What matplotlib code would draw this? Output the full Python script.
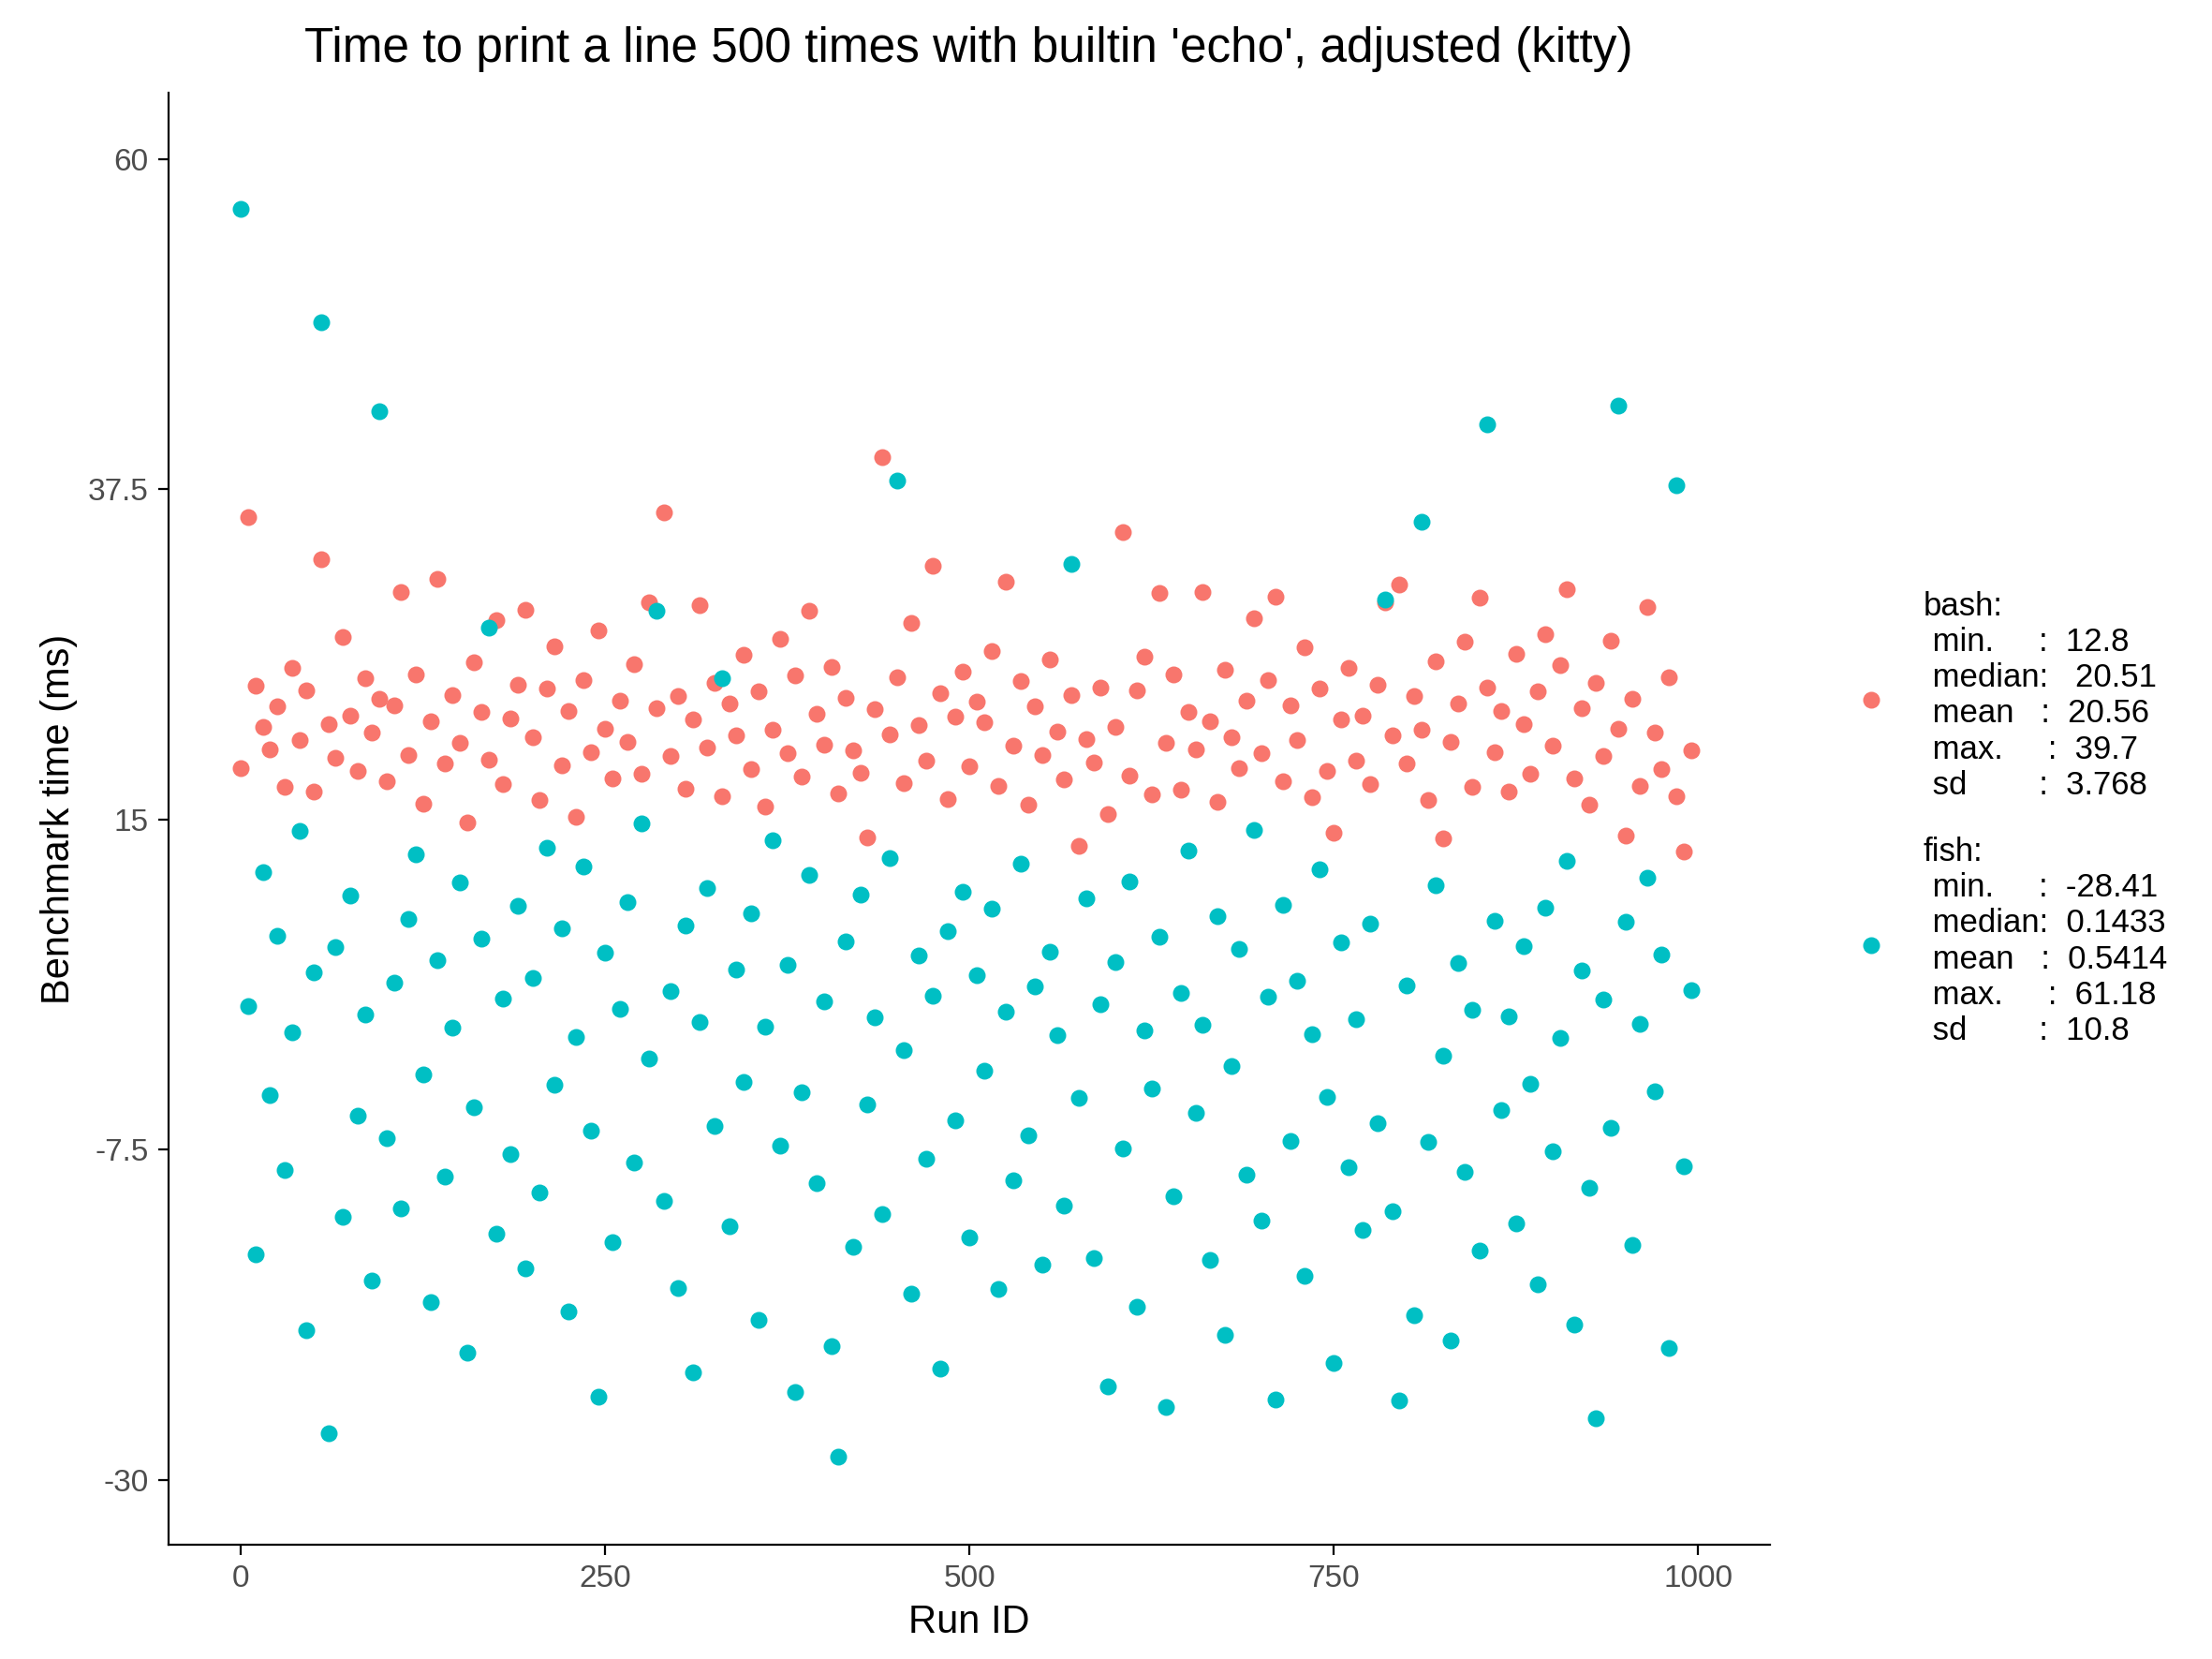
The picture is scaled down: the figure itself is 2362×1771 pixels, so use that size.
import numpy as np
import matplotlib.pyplot as plt

plt.rcParams["font.family"] = "Liberation Sans"

run_ids = np.arange(0, 1000, 5)

bash_ms = [
    18.5, 35.6, 24.1, 21.3, 19.8, 22.7, 17.2, 25.3, 20.4, 23.8, 16.9, 32.7, 21.5, 19.2, 27.4, 22.1, 18.3, 24.6, 20.9, 23.2,
    17.6, 22.8, 30.5, 19.4, 24.9, 16.1, 21.7, 31.4, 18.8, 23.5, 20.2, 14.8, 25.7, 22.3, 19.1, 28.6, 17.4, 21.9, 24.2, 29.3,
    20.6, 16.3, 23.9, 26.8, 18.7, 22.4, 15.2, 24.5, 19.6, 27.9, 21.2, 17.8, 23.1, 20.3, 25.6, 18.1, 29.8, 22.6, 35.9, 19.3,
    23.4, 17.1, 21.8, 29.6, 19.9, 24.3, 16.6, 22.9, 20.7, 26.2, 18.4, 23.7, 15.9, 21.1, 27.3, 19.5, 24.8, 17.9, 29.2, 22.2,
    20.1, 25.4, 16.8, 23.3, 19.7, 18.2, 13.8, 22.5, 39.7, 20.8, 24.7, 17.5, 28.4, 21.4, 19.0, 32.3, 23.6, 16.4, 22.0, 25.1,
    18.6, 23.0, 21.6, 26.5, 17.3, 31.2, 20.0, 24.4, 16.0, 22.7, 19.4, 25.9, 21.0, 17.7, 23.5, 13.2, 20.5, 18.9, 24.0, 15.4,
    21.3, 34.6, 18.0, 23.8, 26.1, 16.7, 30.4, 20.2, 24.9, 17.0, 22.3, 19.8, 30.5, 21.7, 16.2, 25.2, 20.6, 18.5, 23.1, 28.7,
    19.5, 24.5, 30.2, 17.6, 22.8, 20.4, 26.7, 16.5, 23.9, 18.3, 14.1, 21.8, 25.3, 19.0, 22.1, 17.4, 24.2, 29.8, 20.7, 31.0,
    18.8, 23.4, 21.1, 16.3, 25.8, 13.7, 20.3, 22.9, 27.1, 17.2, 30.1, 24.0, 19.6, 22.4, 16.9, 26.3, 21.5, 18.1, 23.7, 27.6,
    20.0, 25.5, 30.7, 17.8, 22.6, 16.0, 24.3, 19.3, 27.2, 21.2, 13.9, 23.2, 17.3, 29.5, 20.9, 18.4, 24.7, 16.6, 12.8, 19.7,
]

fish_ms = [
    56.6, 2.3, -14.6, 11.4, -3.8, 7.1, -8.9, 0.5, 14.2, -19.8, 4.6, 48.9, -26.8, 6.3, -12.1, 9.8, -5.2, 1.7, -16.4, 42.8,
    -6.7, 3.9, -11.5, 8.2, 12.6, -2.4, -17.9, 5.4, -9.3, 0.8, 10.7, -21.3, -4.6, 6.9, 28.1, -13.2, 2.8, -7.8, 9.1, -15.6,
    4.2, -10.4, 13.1, -3.1, 7.6, -18.5, 0.2, 11.8, -6.2, -24.3, 5.9, -13.8, 2.1, 9.4, -8.4, 14.7, -1.3, 29.2, -11.0, 3.3,
    -16.9, 7.8, -22.7, 1.2, 10.3, -5.9, 24.6, -12.7, 4.8, -2.9, 8.6, -19.1, 0.9, 13.6, -7.2, 5.1, -24.0, -3.6, 11.2, -9.8,
    2.6, -20.9, -28.4, 6.7, -14.1, 9.9, -4.4, 1.5, -11.9, 12.4, 38.1, -0.7, -17.3, 5.7, -8.1, 3.0, -22.4, 7.4, -5.5, 10.1,
    -13.5, 4.4, -2.1, 8.9, -17.0, 1.9, -9.6, 12.0, -6.5, 3.6, -15.3, 6.0, 0.3, -11.3, 32.4, -4.0, 9.6, -14.9, 2.4, -23.6,
    5.3, -7.4, 10.8, -18.2, 0.6, -3.3, 7.0, -25.0, -10.7, 3.2, 12.9, -5.0, 1.0, -15.0, 8.4, -20.1, -1.8, 6.2, -9.2, 14.3,
    -12.3, 2.9, -24.5, 9.2, -6.9, 4.0, -16.1, 0.4, 11.6, -3.9, -22.0, 6.6, -8.7, 1.4, -13.0, 7.9, -5.7, 30.0, -11.7, -24.6,
    3.7, -18.8, 35.3, -7.0, 10.5, -1.1, -20.5, 5.2, -9.0, 2.0, -14.4, 41.9, 8.1, -4.8, 1.6, -12.5, 6.4, -3.0, -16.7, 9.0,
    -7.6, 0.1, 12.2, -19.4, 4.7, -10.1, -25.8, 2.7, -6.0, 43.2, 8.0, -14.0, 1.1, 11.0, -3.5, 5.8, -21.0, 37.8, -8.6, 3.4,
]

bash_label = "bash:\n min.     :  12.8\n median:   20.51\n mean   :  20.56\n max.     :  39.7\n sd        :  3.768"
fish_label = "fish:\n min.     :  -28.41\n median:  0.1433\n mean   :  0.5414\n max.     :  61.18\n sd        :  10.8"

y_ticks = [-30, -7.5, 15, 37.5, 60]
y_tick_labels = ["-30", "-7.5", "15", "37.5", "60"]
x_ticks = [0, 250, 500, 750, 1000]

fig = plt.figure(figsize=(11.81, 8.855), dpi=200)
ax = fig.add_axes([0.076, 0.069, 0.724, 0.875])

ax.scatter(run_ids, bash_ms, s=42, color="#F8766D", linewidths=0, label=bash_label)
ax.scatter(run_ids, fish_ms, s=42, color="#00BFC4", linewidths=0, label=fish_label)

ax.set_xlim(-50, 1049)
ax.set_ylim(-34.4, 64.5)
ax.set_xticks(x_ticks)
ax.set_yticks(y_ticks)
ax.set_yticklabels(y_tick_labels)
ax.tick_params(labelsize=12, colors="#4d4d4d", length=4)
ax.tick_params(axis="both", color="black")
for side in ["top", "right"]:
    ax.spines[side].set_visible(False)

ax.set_xlabel("Run ID", fontsize=15, labelpad=4)
ax.set_ylabel("Benchmark time (ms)", fontsize=15)
ax.set_title("Time to print a line 500 times with builtin 'echo', adjusted (kitty)",
             fontsize=18.5, pad=12)

ax.legend(loc="center left", bbox_to_anchor=(1.035, 0.5), frameon=False,
          fontsize=12.5, labelspacing=1.1, handletextpad=0.6, borderaxespad=0)

fig.savefig("out.png", dpi=200)
